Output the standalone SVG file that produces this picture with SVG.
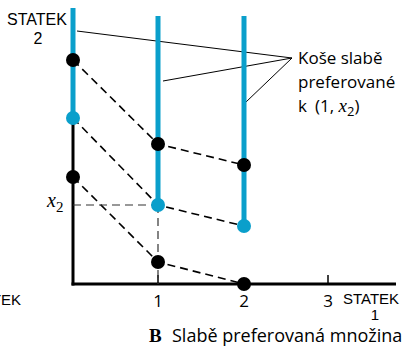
<svg xmlns="http://www.w3.org/2000/svg" width="407" height="348" viewBox="0 0 407 348">
<style>
.blue{stroke:#0A9FCB;stroke-width:5;fill:none}
.axis{stroke:#000;stroke-width:3;fill:none}
.dash{stroke:#000;stroke-width:1.6;stroke-dasharray:8 5;fill:none}
.guide{stroke:#333;stroke-width:1.2;stroke-dasharray:8 5;fill:none}
.lead{stroke:#000;stroke-width:1;fill:none}
.bd{fill:#000}
.cd{fill:#0A9FCB}
.ar{font-family:"Liberation Sans",Arial,sans-serif;fill:#000}
.os{font-family:"Open Sans","Noto Sans",sans-serif;fill:#000}
.it{font-family:"Liberation Serif",serif;font-style:italic;fill:#000}
</style>
<rect width="407" height="348" fill="#fff"/>
<g id="axes">
<line class="axis" x1="73" y1="118" x2="73" y2="285.5"/>
<line class="axis" x1="71.5" y1="284" x2="396" y2="284"/>
<line stroke="#000" stroke-width="1.5" x1="158" y1="275" x2="158" y2="284"/>
<line stroke="#000" stroke-width="1.5" x1="328" y1="275" x2="328" y2="284"/>
</g>
<g id="connectors">
<polyline class="dash" points="73,60 158,144 244,165"/>
<polyline class="dash" points="73,118 158,205 244,226"/>
<polyline class="dash" points="73,177 158,262 244,284"/>
<line class="guide" x1="73" y1="205" x2="158" y2="205"/>
<line class="guide" x1="158" y1="205" x2="158" y2="284"/>
<line class="lead" x1="77" y1="31" x2="292" y2="58"/>
<line class="lead" x1="163" y1="81" x2="292" y2="58"/>
<line class="lead" x1="246" y1="102" x2="292" y2="58"/>
</g>
<g id="basket-lines">
<line class="blue" x1="73" y1="8" x2="73" y2="118"/>
<line class="blue" x1="158" y1="16" x2="158" y2="205"/>
<line class="blue" x1="244" y1="16" x2="244" y2="226"/>
</g>
<g id="points">
<circle class="bd" cx="73" cy="60" r="7"/>
<circle class="cd" cx="73" cy="118" r="7"/>
<circle class="bd" cx="73" cy="177" r="7"/>
<circle class="bd" cx="158" cy="144" r="7"/>
<circle class="cd" cx="158" cy="205" r="7"/>
<circle class="bd" cx="158" cy="262" r="7"/>
<circle class="bd" cx="244" cy="165" r="7"/>
<circle class="cd" cx="244" cy="226" r="7"/>
<circle class="bd" cx="244" cy="284" r="7"/>
</g>
<g id="labels">
<text class="ar" x="37" y="25" font-size="16" text-anchor="middle">STATEK</text>
<text class="ar" x="38" y="44" font-size="16" text-anchor="middle">2</text>
<text class="ar" x="21" y="305" font-size="15" text-anchor="end">STATEK</text>
<text class="it" x="47" y="207" font-size="20">x<tspan font-size="15" dy="5" font-style="normal">2</tspan></text>
<text class="os" x="158" y="307" font-size="17" text-anchor="middle">1</text>
<text class="os" x="244" y="307" font-size="17" text-anchor="middle">2</text>
<text class="os" x="328" y="307" font-size="17" text-anchor="middle">3</text>
<text class="ar" x="371" y="304" font-size="15" text-anchor="middle">STATEK</text>
<text class="ar" x="375" y="320" font-size="15" text-anchor="middle">1</text>
<text x="149" y="342" font-family="Liberation Serif,serif" font-weight="bold" font-size="19" fill="#000">B</text>
<text class="os" x="172" y="342" font-size="18">Slabě preferovaná množina</text>
<text class="os" x="298" y="64" font-size="17">Koše slabě</text>
<text class="os" x="298" y="88" font-size="17">preferované</text>
<text class="os" x="298" y="112" font-size="17">k<tspan dx="8">(1,</tspan> <tspan class="it" font-size="19">x</tspan><tspan font-size="13" dy="4">2</tspan><tspan dy="-4">)</tspan></text>
</g>
</svg>
